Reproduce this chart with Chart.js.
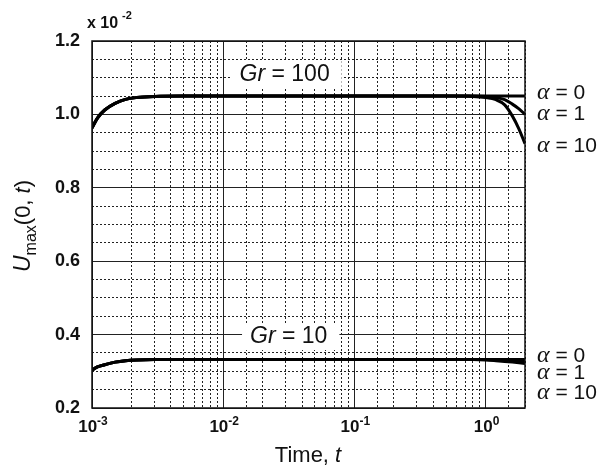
<!DOCTYPE html>
<html>
<head>
    <title>Umax vs time</title>
    <script src="https://cdn.jsdelivr.net/npm/chart.js"></script>
    <style>
        body { margin: 0; background: #fff; }
        #wrap { width: 598px; height: 466px; }
    </style>
</head>
<body>
    <div id="wrap"><canvas id="chart"></canvas></div>

    <script>
        // time points (log axis) and U_max values (x 10^-2)
        const tValues = [0.001, 0.0011, 0.00125, 0.0015, 0.0018, 0.0022, 0.003, 0.005, 0.01, 0.1, 0.5, 0.8, 1.0, 1.2, 1.4, 1.6, 1.8, 2.0];

        const gr100Alpha0  = [0.963, 0.99, 1.012, 1.03, 1.041, 1.046, 1.049, 1.05, 1.05, 1.05, 1.05, 1.05, 1.05, 1.05, 1.05, 1.05, 1.05, 1.05];
        const gr100Alpha1  = [0.963, 0.99, 1.012, 1.03, 1.041, 1.046, 1.049, 1.05, 1.05, 1.05, 1.05, 1.05, 1.049, 1.046, 1.04, 1.028, 1.015, 1.0];
        const gr100Alpha10 = [0.963, 0.99, 1.012, 1.03, 1.041, 1.046, 1.049, 1.05, 1.05, 1.05, 1.05, 1.049, 1.046, 1.04, 1.026, 0.996, 0.96, 0.92];

        const gr10Alpha0  = [0.303, 0.312, 0.318, 0.325, 0.329, 0.331, 0.332, 0.332, 0.332, 0.332, 0.332, 0.332, 0.332, 0.332, 0.332, 0.332, 0.332, 0.332];
        const gr10Alpha1  = [0.303, 0.312, 0.318, 0.325, 0.329, 0.331, 0.332, 0.332, 0.332, 0.332, 0.332, 0.332, 0.332, 0.331, 0.330, 0.329, 0.328, 0.327];
        const gr10Alpha10 = [0.303, 0.312, 0.318, 0.325, 0.329, 0.331, 0.332, 0.332, 0.332, 0.332, 0.332, 0.332, 0.331, 0.329, 0.327, 0.325, 0.323, 0.321];

        const seriesNames = ['Gr=100, α=0', 'Gr=100, α=1', 'Gr=100, α=10', 'Gr=10, α=0', 'Gr=10, α=1', 'Gr=10, α=10'];
        const seriesValues = [gr100Alpha0, gr100Alpha1, gr100Alpha10, gr10Alpha0, gr10Alpha1, gr10Alpha10];

        // curve labels
        const alphaLabels = ['0', '1', '10'];
        const alphaLabelY100 = [1.061, 1.004, 0.917];
        const alphaLabelY10 = [0.344, 0.297, 0.243];
        const grLabels = ['100', '10'];
        const grLabelT = [0.0294, 0.0316];
        const grLabelY = [1.091, 0.377];

        const yMajorTicks = [0.2, 0.4, 0.6, 0.8, 1.0, 1.2];

        Chart.defaults.font.family = '"Liberation Sans", Arial, sans-serif';
        Chart.defaults.color = '#111';

        const isDecade = v => Math.abs(Math.log10(v) - Math.round(Math.log10(v))) < 1e-6;
        const isMajorY = v => yMajorTicks.some(m => Math.abs(m - v) < 1e-6);

        function drawParts(ctx, parts, x, y) {
            // parts: [text, font, dy]; centred on x
            let w = 0;
            parts.forEach(p => { ctx.font = p[1]; w += ctx.measureText(p[0]).width; });
            let cx = x - w / 2;
            parts.forEach(p => {
                ctx.font = p[1];
                ctx.fillText(p[0], cx, y + (p[2] || 0));
                cx += ctx.measureText(p[0]).width;
            });
            return w;
        }

        const textPlugin = {
            id: 'texts',
            afterDraw(chart) {
                const ctx = chart.ctx;
                const a = chart.chartArea;
                const ys = chart.scales.y;
                const xs = chart.scales.x;
                ctx.save();

                // frame
                ctx.strokeStyle = '#111';
                ctx.lineWidth = 1.5;
                ctx.strokeRect(a.left, a.top, a.right - a.left, a.bottom - a.top);

                ctx.fillStyle = '#111';
                ctx.textAlign = 'left';
                ctx.textBaseline = 'alphabetic';

                // x tick labels 10^n from the x scale
                xs.ticks.forEach(t => {
                    const px = xs.getPixelForValue(t.value);
                    const e = String(Math.round(Math.log10(t.value)));
                    drawParts(ctx, [['10', 'bold 17px "Liberation Sans"'], [e, 'bold 12px "Liberation Sans"', -7]], px + 1, a.bottom + 24);
                });

                // Gr labels with white boxes
                const grFontI = 'italic 23px "Liberation Sans"';
                const grFont = '23px "Liberation Sans"';
                grLabels.forEach((g, i) => {
                    const cx = xs.getPixelForValue(grLabelT[i]);
                    const by = ys.getPixelForValue(grLabelY[i]);
                    ctx.font = grFontI;
                    const w1 = ctx.measureText('Gr').width;
                    ctx.font = grFont;
                    const w2 = ctx.measureText(' = ' + g).width;
                    ctx.fillStyle = '#fff';
                    ctx.fillRect(cx - (w1 + w2) / 2 - 8, by - 20, w1 + w2 + 20, 27);
                    ctx.fillStyle = '#111';
                    drawParts(ctx, [['Gr', grFontI], [' = ' + g, grFont]], cx, by);
                });

                // alpha labels
                const drawAlpha = (vals) => {
                    vals.forEach((v, i) => {
                        const y = ys.getPixelForValue(v) + 7;
                        ctx.font = 'italic 24px "Liberation Serif"';
                        ctx.fillText('α', 537, y);
                        const w = ctx.measureText('α').width;
                        ctx.font = '21px "Liberation Sans"';
                        ctx.fillText(' = ' + alphaLabels[i], 537 + w, y);
                    });
                };
                drawAlpha(alphaLabelY100);
                drawAlpha(alphaLabelY10);

                // multiplier at top-left
                ctx.font = 'bold 16px "Liberation Sans"';
                ctx.fillText('x 10', 87, 28);
                ctx.font = 'bold 11px "Liberation Sans"';
                ctx.fillText('-2', 122, 19);

                // x title
                drawParts(ctx, [['Time, ', '22px "Liberation Sans"'], ['t', 'italic 22px "Liberation Sans"']], 308, 462);

                // y title (rotated)
                ctx.translate(30, 226);
                ctx.rotate(-Math.PI / 2);
                drawParts(ctx, [
                    ['U', 'italic 23px "Liberation Sans"'],
                    ['max', '16px "Liberation Sans"', 6],
                    ['(0, ', '22px "Liberation Sans"'],
                    ['t', 'italic 22px "Liberation Sans"'],
                    [')', '22px "Liberation Sans"']
                ], 0, 0);
                ctx.restore();
            }
        };

        const ctx = document.getElementById('chart').getContext('2d');
        new Chart(ctx, {
            type: 'line',
            data: {
                datasets: seriesValues.map((vals, i) => ({
                    label: seriesNames[i],
                    data: vals.map((v, j) => ({ x: tValues[j], y: v })),
                    borderColor: '#000',
                    borderWidth: 3,
                    pointRadius: 0,
                    cubicInterpolationMode: 'monotone',
                    fill: false
                }))
            },
            options: {
                responsive: true,
                maintainAspectRatio: false,
                animation: false,
                layout: { padding: { left: 0, right: 73, top: 41, bottom: 0 } },
                plugins: { legend: { display: false }, tooltip: { enabled: false } },
                scales: {
                    xMinor: {
                        type: 'logarithmic',
                        position: 'bottom',
                        min: 0.001,
                        max: 2,
                        afterBuildTicks: s => { s.ticks = s.ticks.filter(t => !isDecade(t.value)); },
                        afterFit: s => { s.height = 0; },
                        grid: { color: '#222', lineWidth: 1, drawTicks: false },
                        border: { display: false, dash: [2, 2] },
                        ticks: { display: false }
                    },
                    x: {
                        type: 'logarithmic',
                        position: 'bottom',
                        min: 0.001,
                        max: 2,
                        afterBuildTicks: s => { s.ticks = s.ticks.filter(t => isDecade(t.value)); },
                        afterFit: s => { s.height = 58; },
                        grid: { color: '#222', lineWidth: 1, drawTicks: false },
                        border: { display: false },
                        ticks: { display: false }
                    },
                    yMinor: {
                        type: 'linear',
                        position: 'left',
                        min: 0.2,
                        max: 1.2,
                        afterBuildTicks: s => { s.ticks = s.ticks.filter(t => !isMajorY(t.value)); },
                        afterFit: s => { s.width = 0; },
                        grid: { color: '#222', lineWidth: 1, drawTicks: false },
                        border: { display: false, dash: [2, 2] },
                        ticks: { display: false, stepSize: 0.05 }
                    },
                    y: {
                        type: 'linear',
                        position: 'left',
                        min: 0.2,
                        max: 1.2,
                        afterFit: s => { s.width = 92; },
                        grid: { color: '#222', lineWidth: 1, drawTicks: false },
                        border: { display: false },
                        ticks: {
                            stepSize: 0.2,
                            padding: 12,
                            font: { size: 18, weight: 'bold' },
                            callback: v => v.toFixed(1)
                        }
                    }
                }
            },
            plugins: [textPlugin]
        });
    </script>
</body>
</html>
